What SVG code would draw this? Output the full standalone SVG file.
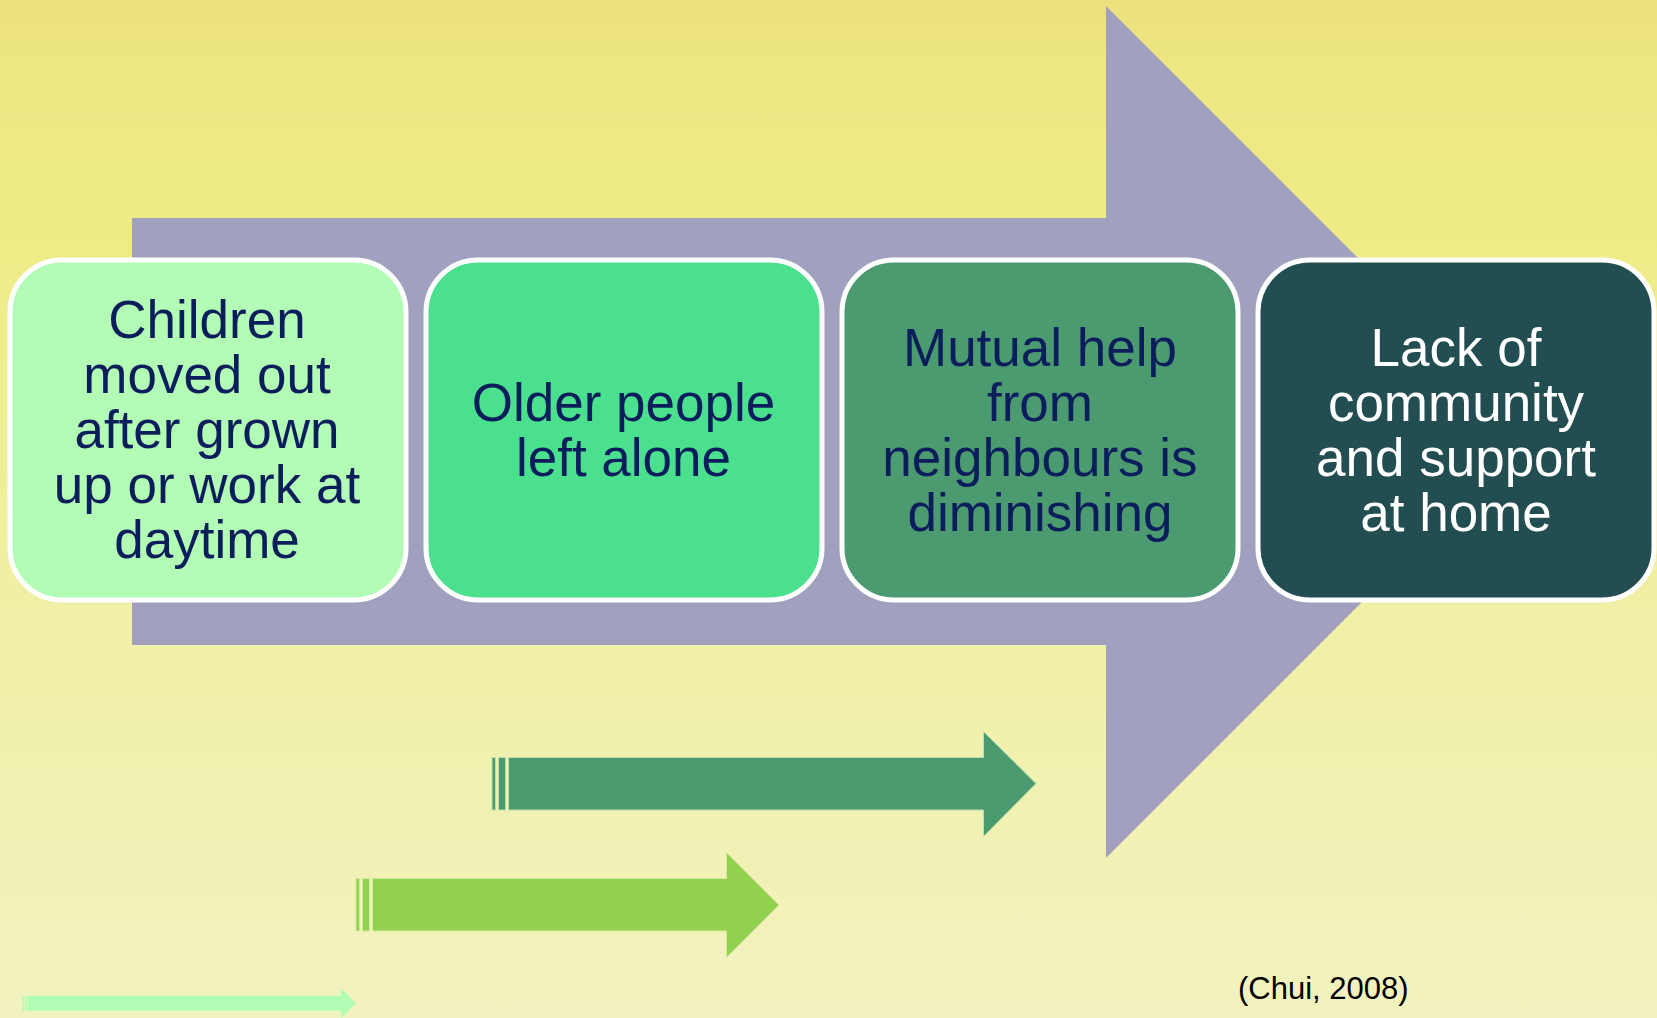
<svg xmlns="http://www.w3.org/2000/svg" width="1657" height="1018" viewBox="0 0 1657 1018">
<defs>
<linearGradient id="bg" x1="0" y1="0" x2="0" y2="1">
<stop offset="0" stop-color="#ECE07E"/>
<stop offset="0.07" stop-color="#EDE784"/>
<stop offset="0.25" stop-color="#EEEC87"/>
<stop offset="0.6" stop-color="#F0F0A6"/>
<stop offset="1" stop-color="#F2F2C0"/>
</linearGradient>
<style>
.box{stroke:#FFFFFF;stroke-width:5}
.t{font-family:"Liberation Sans",Arial,sans-serif;font-size:53px;text-anchor:middle;fill:#0B1E5B}
.tw{fill:#FFFFFF}
.cite{font-family:"Liberation Sans",Arial,sans-serif;font-size:31px;fill:#000000}
</style>
</defs>
<rect x="0" y="0" width="1657" height="1018" fill="url(#bg)"/>
<g id="connectors">
<polygon id="main-arrow" points="132,218 1106,218 1106,6 1532,432 1106,858 1106,645 132,645" fill="#A1A0BE"/>
<g id="arrow-dark" fill="#4C9A70" stroke="#B9DFA8" stroke-width="1">
<rect x="492" y="757.5" width="3.5" height="52.5"/>
<rect x="498.5" y="757.5" width="7" height="52.5"/>
<polygon points="508.5,757.5 983.5,757.5 983.5,731.5 1036,783.5 983.5,836.5 983.5,810 508.5,810"/>
</g>
<g id="arrow-light" fill="#92D050" stroke="#D2EC9A" stroke-width="1">
<rect x="356" y="878.5" width="3.5" height="52.5"/>
<rect x="362.5" y="878.5" width="7" height="52.5"/>
<polygon points="372.5,878.5 726.5,878.5 726.5,852.5 779,905 726.5,957.5 726.5,931 372.5,931"/>
</g>
<g id="arrow-pale" fill="#B2FDB6">
<rect x="22.7" y="995.7" width="1.6" height="15"/>
<rect x="25.3" y="995.7" width="1.7" height="15"/>
<polygon points="27.7,995.7 341,995.7 341,988 356,1003.3 341,1018.6 341,1010.7 27.7,1010.7"/>
</g>
</g>
<g id="node1">
<rect class="box" x="10" y="260" width="396" height="340" rx="52" ry="52" fill="#B2FCB5"/>
<text class="t" x="207" y="338">Children</text>
<text class="t" x="207" y="393">moved out</text>
<text class="t" x="207" y="448">after grown</text>
<text class="t" x="207" y="503">up or work at</text>
<text class="t" x="207" y="558">daytime</text>
</g>
<g id="node2">
<rect class="box" x="426" y="260" width="396" height="340" rx="52" ry="52" fill="#4AE08E"/>
<text class="t" x="623.5" y="420.5">Older people</text>
<text class="t" x="623.5" y="475.5">left alone</text>
</g>
<g id="node3">
<rect class="box" x="842" y="260" width="396" height="340" rx="52" ry="52" fill="#4C9A70"/>
<text class="t" x="1040" y="365.5">Mutual help</text>
<text class="t" x="1040" y="420.5">from</text>
<text class="t" x="1040" y="475.5">neighbours is</text>
<text class="t" x="1040" y="530.5">diminishing</text>
</g>
<g id="node4">
<rect class="box" x="1258" y="260" width="396" height="340" rx="52" ry="52" fill="#234E51"/>
<text class="t tw" x="1456" y="365.5">Lack of</text>
<text class="t tw" x="1456" y="420.5">community</text>
<text class="t tw" x="1456" y="475.5">and support</text>
<text class="t tw" x="1456" y="530.5">at home</text>
</g>
<text class="cite" x="1238" y="999">(Chui, 2008)</text>
</svg>
